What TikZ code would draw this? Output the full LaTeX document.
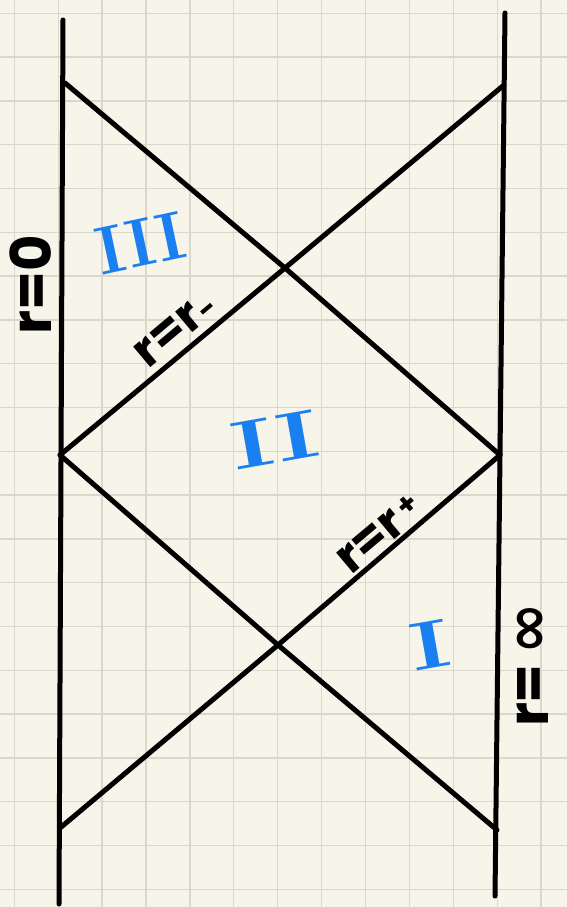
\documentclass[tikz,border=0pt]{standalone}
\usepackage{fontspec}
\setsansfont{Poppins}
\newfontfamily\symfont{DejaVu Sans}
\definecolor{paper}{HTML}{F7F5EA}
\definecolor{gridc}{HTML}{DAD8CC}
\definecolor{numblue}{HTML}{1A80F2}
\begin{document}
\begin{tikzpicture}[x=1pt,y=-1pt,
  ink/.style={line width=5pt, line cap=round, line join=round, black},
  gridline/.style={gridc, line width=1.3pt},
  lab/.style={font=\sffamily\bfseries\fontsize{48}{48}\selectfont, inner sep=0pt},
  vlab/.style={font=\sffamily\bfseries\fontsize{56}{56}\selectfont, inner sep=0pt, rotate=90},
  roman/.style={font=\bfseries\fontsize{68}{68}\selectfont, text=numblue, inner sep=0pt}]
\fill[paper] (0,0) rectangle (567,907);
\useasboundingbox (0,0) rectangle (567,907);
\foreach \i in {0,...,12} \draw[gridline] ({14.3+43.9*\i},0) -- ++(0,907);
\foreach \j in {0,...,20} \draw[gridline] (0,{13.3+43.8*\j}) -- ++(567,0);
% boundary lines
\coordinate (LT) at (63,20);
\coordinate (LB) at (59,904);
\coordinate (RT) at (505,13);
\coordinate (RB) at (495,896);
\coordinate (L1) at (65,83);
\coordinate (R1) at (504,85);
\coordinate (X1) at (285,268);
\coordinate (L2) at (60,455);
\coordinate (R2) at (500,455);
\coordinate (X2) at (278,645);
\coordinate (L3) at (60,828);
\coordinate (R3) at (497,830);
\draw[ink] (LT) -- (LB);
\draw[ink] (RT) -- (RB);
\draw[ink] (L1) -- (X1) -- (R2);
\draw[ink] (R1) -- (X1) -- (L2);
\draw[ink] (L2) -- (X2) -- (R3);
\draw[ink] (R2) -- (X2) -- (L3);
% labels
\node[vlab] (r0) at (31,285) {r=0};
\node[lab, rotate=40] (rm) at (176,330) {r=r\raisebox{-2pt}{\fontsize{30}{30}\selectfont -}};
\node[lab, rotate=40] (rp) at (380,534) {r=r\raisebox{8pt}{\fontsize{30}{30}\selectfont\,+}};
\node[vlab] (rinf) at (533,665) {r=\,{\symfont\bfseries\fontsize{62}{62}\selectfont ∞}};
\node[roman, rotate=12] (n3) at (141,243) {III};
\node[roman, rotate=10, xscale=1.5] (n2) at (275,440) {II};
\node[roman, rotate=10, xscale=1.4] (n1) at (430,645) {I};
\end{tikzpicture}
\end{document}
